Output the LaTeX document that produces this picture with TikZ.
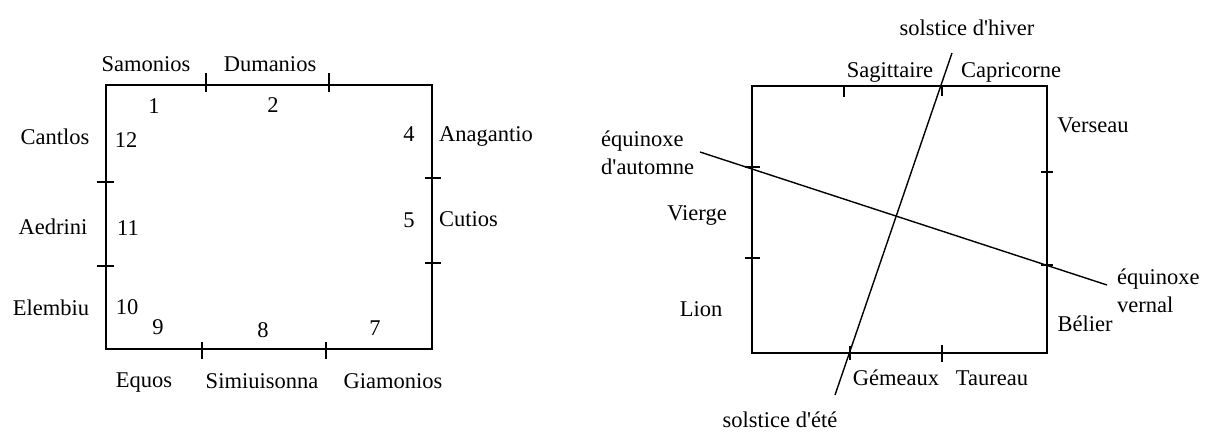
\documentclass[tikz,border=0pt]{standalone}
\usepackage{fontspec}
\setmainfont{Liberation Serif}
\newcommand{\apo}{\textquotesingle}
\begin{document}
\begin{tikzpicture}[x=1pt,y=-1pt,
  lbl/.style={inner sep=0pt, anchor=base, font=\fontsize{22.5}{28}\selectfont},
  lbl2/.style={inner sep=0pt, font=\fontsize{22.5}{28}\selectfont, align=left},
  frame/.style={line width=1.6pt, line join=miter},
  tk/.style={line width=1.6pt},
  ray/.style={line width=1.4pt}]
\useasboundingbox (0,0) rectangle (1213,432);

% ---------- left diagram ----------
\coordinate (LA) at (106,85);
\coordinate (LB) at (432,349);
\draw[frame] (LA) rectangle (LB);
% ticks
\draw[tk] (206,73) -- (206,92);
\draw[tk] (329,73) -- (329,92);
\draw[tk] (202,342) -- (202,359);
\draw[tk] (326,342) -- (326,359);
\draw[tk] (97,182) -- (114,182);
\draw[tk] (97,266) -- (114,266);
\draw[tk] (425,178) -- (441,178);
\draw[tk] (425,263) -- (441,263);

\node[lbl] (samonios) at (146,71) {Samonios};
\node[lbl] (dumanios) at (270,71) {Dumanios};
\node[lbl] (n1) at (154,113) {1};
\node[lbl] (n2) at (273,112) {2};
\node[lbl] (cantlos) at (55,144) {Cantlos};
\node[lbl] (n12) at (126,147) {12};
\node[lbl] (n4) at (409,141) {4};
\node[lbl, anchor=base west] (anagantio) at (439,141) {Anagantio};
\node[lbl] (aedrini) at (53,234) {Aedrini};
\node[lbl] (n11) at (128,235) {11};
\node[lbl] (n5) at (409,227) {5};
\node[lbl, anchor=base west] (cutios) at (439,226) {Cutios};
\node[lbl] (elembiu) at (51,315) {Elembiu};
\node[lbl] (n10) at (127,314) {10};
\node[lbl] (n9) at (158,334) {9};
\node[lbl] (n8) at (263,337) {8};
\node[lbl] (n7) at (375,335) {7};
\node[lbl] (equos) at (144,387) {Equos};
\node[lbl] (simiuisonna) at (262,388) {Simiuisonna};
\node[lbl] (giamonios) at (393,388) {Giamonios};

% ---------- right diagram ----------
\coordinate (RA) at (752,86);
\coordinate (RB) at (1047,353);
\draw[frame] (RA) rectangle (RB);
% ticks
\draw[tk] (844,86) -- (844,97);
\draw[tk] (942,86) -- (942,96);
\draw[tk] (850,346) -- (850,360);
\draw[tk] (942,345) -- (942,362);
\draw[tk] (745,167) -- (760,167);
\draw[tk] (745,258) -- (760,258);
\draw[tk] (1041,172) -- (1053,172);
\draw[tk] (1041,265) -- (1053,265);

% solstice and equinox lines
\coordinate (solH) at (952,53);
\coordinate (solE) at (835,395);
\coordinate (eqA) at (700,152);
\coordinate (eqV) at (1107,285);
\draw[ray] (solH) -- (solE);
\draw[ray] (eqA) -- (eqV);

\node[lbl] (hiver) at (967,35) {solstice d\apo hiver};
\node[lbl] (sagittaire) at (890,77) {Sagittaire};
\node[lbl] (capricorne) at (1011,77) {Capricorne};
\node[lbl] (verseau) at (1093,132) {Verseau};
\node[lbl2, anchor=west] (automne) at (601,153) {équinoxe\\d\apo automne};
\node[lbl] (vierge) at (697,220) {Vierge};
\node[lbl] (lion) at (701,316) {Lion};
\node[lbl2, anchor=west] (vernal) at (1117,291) {équinoxe\\vernal};
\node[lbl] (belier) at (1085,331) {Bélier};
\node[lbl] (gemeaux) at (896,385) {Gémeaux};
\node[lbl] (taureau) at (992,385) {Taureau};
\node[lbl] (ete) at (780,427) {solstice d\apo été};
\end{tikzpicture}
\end{document}
